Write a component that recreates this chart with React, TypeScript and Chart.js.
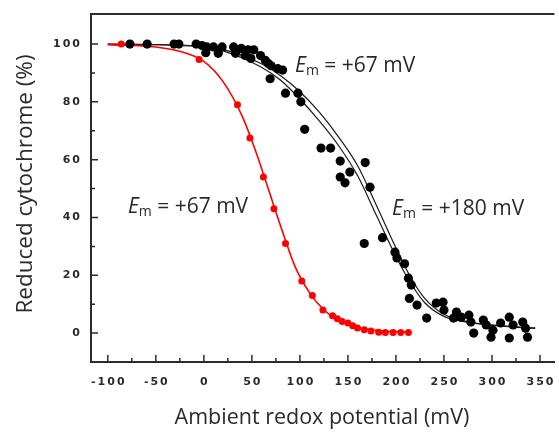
import React, { useEffect, useRef } from 'react';
import { Chart, registerables } from 'chart.js';

Chart.register(...registerables);

// Tick labels
const xTickValues = [-100, -50, 0, 50, 100, 150, 200, 250, 300, 350];
const yTickValues = [0, 20, 40, 60, 80, 100];

// Red series (measured points)
const redX = [-86, -5, 35, 48, 62, 73, 85, 102, 113, 124, 134, 139, 144, 150, 155, 160, 167, 174, 182, 189, 197, 205, 213];
const redY = [100, 94.7, 79, 67.5, 54, 43, 31, 18, 13, 8, 6, 5, 4, 3.5, 2.5, 1.8, 1.2, 0.7, 0.3, 0.2, 0.2, 0.2, 0.2];

// Red fitted curve
const redFitX = [-100, -50, -20, 0, 20, 40, 55, 67, 80, 95, 110, 125, 140, 160, 185, 213];
const redFitY = [99.8, 99, 97, 94, 87, 75, 62, 50, 37, 23, 14, 8, 4.5, 2, 0.8, 0.3];

// Black series (measured points)
const blackX = [-77, -59, -31, -26, -8, -2, 3, 10, 19, 31, 39, 46, 52, 2, 15, 33, 43, 49, 59, 64, 67, 70, 77, 82, 69, 85, 98, 101, 105, 122, 132, 142, 168, 152, 142, 147, 173, 167, 186, 199, 201, 209, 213, 216, 214, 222, 232, 242, 249, 250, 263, 260, 268, 276, 278, 281, 291, 294, 299, 301, 309, 318, 318, 322, 332, 335, 337];
const blackY = [100, 100, 100, 100, 100, 99.5, 99, 99, 99, 99, 98.5, 98, 98, 97, 96.8, 96.8, 96, 95, 96, 94.4, 93.3, 92.5, 91.5, 91, 88, 83, 83, 80, 70.5, 64, 64, 59.5, 59, 55.7, 54, 52, 50.5, 31, 33, 28, 26, 24, 19, 16.6, 12, 9.7, 5.2, 10.4, 10.7, 8, 7.3, 5.2, 5.5, 6.2, 3.8, 0, 4.5, 2.8, -1.4, 1, 3.5, 5.5, -1.7, 2.8, 3.8, 1.7, -1.4];

// Black fitted curves (two close fits)
const blackFitAX = [-100, 0, 30, 60, 80, 100, 120, 140, 160, 180, 200, 215, 230, 250, 280, 310, 345];
const blackFitAY = [100, 99, 96.5, 92, 87.5, 81, 73.5, 65, 54.5, 40.5, 26.5, 17.5, 10.5, 5.8, 3.5, 2.5, 1.8];
const blackFitBX = [-100, 0, 30, 60, 80, 100, 120, 140, 160, 180, 200, 215, 230, 250, 280, 310, 345];
const blackFitBY = [100, 99.3, 97.2, 93.2, 89, 83.5, 76.5, 68, 58, 44, 29.5, 19.5, 12, 6.5, 3.6, 2.4, 1.6];

// Annotation labels (data coordinates)
const emLabelX = [95, -79, 196];
const emLabelY = [92.5, 43.5, 43];
const emLabelText = ['+67 mV', '+67 mV', '+180 mV'];

const xTitle = 'Ambient redox potential (mV)';
const yTitle = 'Reduced cytochrome (%)';

const pts = (xs: number[], ys: number[]) => xs.map((x, i) => ({ x, y: ys[i] }));

const AXIS_COLOR = '#2b2b2b';
const TEXT_COLOR = '#2a2a2a';
const TITLE_FONT = '"Open Sans"';
const TICK_FONT = 'bold 11px "DejaVu Sans"';
const TICK_SPACING = 2;

const framePlugin = {
  id: 'framePlugin',
  beforeDatasetsDraw(chart: any) {
    const ctx = chart.ctx;
    const { left, right, top, bottom } = chart.chartArea;
    const xs = chart.scales.x;
    const ys = chart.scales.y;
    ctx.save();
    ctx.strokeStyle = AXIS_COLOR;
    ctx.lineWidth = 2;
    ctx.beginPath();
    ctx.moveTo(left - 1, top);
    ctx.lineTo(right, top);
    ctx.stroke();
    ctx.lineWidth = 1.5;
    ctx.beginPath();
    xTickValues.forEach((v, i) => {
      const px = xs.getPixelForValue(v);
      ctx.moveTo(px, bottom);
      ctx.lineTo(px, bottom - 7);
      if (i < xTickValues.length - 1) {
        const m = xs.getPixelForValue((v + xTickValues[i + 1]) / 2);
        ctx.moveTo(m, bottom);
        ctx.lineTo(m, bottom - 4);
      }
    });
    yTickValues.forEach((v, i) => {
      const py = ys.getPixelForValue(v);
      ctx.moveTo(left, py);
      ctx.lineTo(left + 7, py);
      if (i < yTickValues.length - 1) {
        const m = ys.getPixelForValue((v + yTickValues[i + 1]) / 2);
        ctx.moveTo(left, m);
        ctx.lineTo(left + 4, m);
      }
    });
    ctx.stroke();

    // tick labels (letter-spaced)
    ctx.fillStyle = TEXT_COLOR;
    ctx.font = TICK_FONT;
    (ctx as any).letterSpacing = TICK_SPACING + 'px';
    ctx.textBaseline = 'middle';
    ctx.textAlign = 'center';
    xTickValues.forEach((v) => {
      const px = xs.getPixelForValue(v);
      ctx.fillText(String(v), px + TICK_SPACING / 2, bottom + 20);
    });
    ctx.textAlign = 'right';
    yTickValues.forEach((v) => {
      const py = ys.getPixelForValue(v);
      ctx.fillText(String(v), left - 11 + TICK_SPACING, py);
    });
    (ctx as any).letterSpacing = '0px';
    ctx.restore();
  },
  afterDraw(chart: any) {
    const ctx = chart.ctx;
    const xs = chart.scales.x;
    const ys = chart.scales.y;
    ctx.save();
    ctx.fillStyle = TEXT_COLOR;
    ctx.textBaseline = 'middle';
    // axis titles
    ctx.font = `21.5px ${TITLE_FONT}`;
    ctx.textAlign = 'center';
    ctx.fillText(xTitle, 322, 418);
    ctx.save();
    ctx.translate(26, 184);
    ctx.rotate(-Math.PI / 2);
    ctx.font = `22.5px ${TITLE_FONT}`;
    ctx.fillText(yTitle, 0, 0);
    ctx.restore();
    // Em labels
    ctx.textAlign = 'left';
    emLabelX.forEach((lx, i) => {
      let px = xs.getPixelForValue(lx);
      const py = ys.getPixelForValue(emLabelY[i]);
      ctx.font = `italic 21px ${TITLE_FONT}`;
      ctx.fillText('E', px, py);
      px += ctx.measureText('E').width;
      ctx.font = `14px ${TITLE_FONT}`;
      ctx.fillText('m', px, py + 5);
      px += ctx.measureText('m').width;
      ctx.font = `21px ${TITLE_FONT}`;
      ctx.fillText(' = ' + emLabelText[i], px, py);
    });
    ctx.restore();
  },
};

export default function App() {
  const ref = useRef<HTMLCanvasElement | null>(null);
  useEffect(() => {
    if (!ref.current) return;
    const chart = new Chart(ref.current, {
      type: 'scatter',
      data: {
        datasets: [
          {
            label: 'black points',
            data: pts(blackX, blackY),
            pointRadius: 4.6,
            pointBackgroundColor: '#000',
            pointBorderColor: '#000',
            pointBorderWidth: 0,
            showLine: false,
            order: 0,
          },
          {
            label: 'red points',
            data: pts(redX, redY),
            pointRadius: 3.5,
            pointBackgroundColor: '#ff0000',
            pointBorderColor: '#ff0000',
            pointBorderWidth: 0,
            showLine: false,
            order: 1,
          },
          {
            label: 'red fit',
            data: pts(redFitX, redFitY),
            showLine: true,
            borderColor: '#ff0000',
            borderWidth: 1.6,
            pointRadius: 0,
            cubicInterpolationMode: 'monotone',
            order: 2,
          },
          {
            label: 'black fit A',
            data: pts(blackFitAX, blackFitAY),
            showLine: true,
            borderColor: '#1a1a1a',
            borderWidth: 1.2,
            pointRadius: 0,
            cubicInterpolationMode: 'monotone',
            order: 3,
          },
          {
            label: 'black fit B',
            data: pts(blackFitBX, blackFitBY),
            showLine: true,
            borderColor: '#1a1a1a',
            borderWidth: 1.2,
            pointRadius: 0,
            cubicInterpolationMode: 'monotone',
            order: 4,
          },
        ],
      } as any,
      options: {
        animation: false,
        responsive: false,
        maintainAspectRatio: false,
        devicePixelRatio: 1,
        layout: { padding: { left: 0, right: -14.6, top: 14, bottom: 0 } },
        plugins: {
          legend: { display: false },
          tooltip: { enabled: false },
        },
        scales: {
          x: {
            type: 'linear',
            min: -117.5,
            max: 365,
            afterBuildTicks: (scale: any) => {
              scale.ticks = xTickValues.map((v) => ({ value: v }));
            },
            afterFit: (scale: any) => {
              scale.height = 70;
            },
            grid: { display: false, drawTicks: false },
            border: { display: true, color: AXIS_COLOR, width: 2 },
            ticks: { display: false },
          },
          y: {
            type: 'linear',
            min: -10,
            max: 110.4,
            afterBuildTicks: (scale: any) => {
              scale.ticks = yTickValues.map((v) => ({ value: v }));
            },
            afterFit: (scale: any) => {
              scale.width = 91;
            },
            grid: { display: false, drawTicks: false },
            border: { display: true, color: AXIS_COLOR, width: 2 },
            ticks: { display: false },
          },
        },
      } as any,
      plugins: [framePlugin],
    });
    return () => chart.destroy();
  }, []);
  return (
    <div style={{ position: 'fixed', left: 0, top: 0, width: 559, height: 432, background: '#fff' }}>
      <canvas ref={ref} width={559} height={432} style={{ width: 559, height: 432, display: 'block' }} />
    </div>
  );
}
